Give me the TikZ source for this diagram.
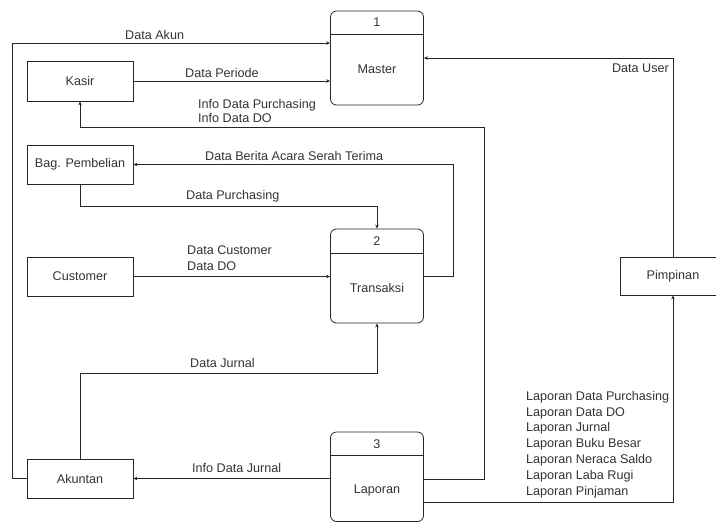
\documentclass[tikz,border=0pt]{standalone}
\usepackage{fontspec}
\setmainfont{Liberation Sans}
\usetikzlibrary{arrows.meta}
\begin{document}
\begin{tikzpicture}[x=1pt,y=-1pt,
  font=\fontsize{12.6}{15}\selectfont,
  every node/.style={text=black!80},
  ent/.style={draw=black!85, line width=0.8pt, minimum width=106pt, minimum height=39pt, inner sep=0pt},
  proc/.style={draw=black!85, line width=0.8pt, rounded corners=6pt, minimum width=93pt, minimum height=94pt, inner sep=0pt},
  flow/.style={draw=black!85, line width=0.8pt, -{Stealth[length=4pt,width=3.5pt]}},
  plain/.style={draw=black!85, line width=0.8pt},
  lbl/.style={anchor=west, inner sep=0pt, align=left},
]
\useasboundingbox (0,0) rectangle (716,523);

% entities
\node[ent, minimum height=40pt] (ka) at (80,81) {Kasir};
\node[ent] (bp) at (80,164.5) {Bag. Pembelian};
\node[ent] (cu) at (80,276.5) {Customer};
\node[ent] (ak) at (80,478.5) {Akuntan};
\node[ent, minimum width=96pt, minimum height=38pt] (pi) at (668,276) {};
\node (pit) at (673,276) {Pimpinan};

% processes
\node[proc] (ma) at (377,58) {};
\draw[plain] (ma.west |- 0,34) -- (ma.east |- 0,34);
\node (man) at (377,22.5) {1};
\node (mat) at (377,69.5) {Master};

\node[proc] (tr) at (377,276) {};
\draw[plain] (tr.west |- 0,253) -- (tr.east |- 0,253);
\node (trn) at (377,241) {2};
\node (trt) at (377,288) {Transaksi};

\node[proc, minimum height=89.5pt] (la) at (377,476.75) {};
\draw[plain] (la.west |- 0,455) -- (la.east |- 0,455);
\node (lan) at (377,444) {3};
\node (lat) at (377,490.5) {Laporan};

% connectors
\coordinate (c1) at (12,478.5);
\coordinate (c2) at (12,43);
\draw[flow] (ak.west) -- (c1) -- (c2) -- (ma.west |- c2);
\node[lbl] (l1) at (125,35) {Data Akun};

\draw[flow] (ka.east) -- (ma.west |- ka.east);
\node[lbl] (l2) at (185,73) {Data Periode};

\coordinate (c3) at (484,479);
\coordinate (c4) at (484,127);
\draw[flow] (la.east |- c3) -- (c3) -- (c4) -| (ka.south);
\node[lbl, font=\fontsize{12.6}{14}\selectfont] (l3) at (198,111) {Info Data Purchasing\\Info Data DO};

\draw[flow] (pi.north -| pit) |- (ma.east);
\node[anchor=east, inner sep=0pt] (l4) at (669,68) {Data User};

\coordinate (c5) at (453,276);
\draw[flow] (tr.east) -- (c5) |- (bp.east);
\node[lbl] (l5) at (205,156) {Data Berita Acara Serah Terima};

\coordinate (c6) at (80,206);
\draw[flow] (bp.south) -- (c6) -| (tr.north);
\node[lbl] (l6) at (186,196) {Data Purchasing};

\draw[flow] (cu.east) -- (tr.west |- cu.east);
\node[lbl, font=\fontsize{12.6}{16}\selectfont] (l7) at (187,258) {Data Customer\\Data DO};

\coordinate (c7) at (80,373);
\draw[flow] (ak.north) -- (c7) -| (tr.south);
\node[lbl] (l8) at (190,363) {Data Jurnal};

\draw[flow] (la.west |- ak.east) -- (ak.east);
\node[lbl] (l9) at (192,468) {Info Data Jurnal};

\coordinate (c8) at (424,502);
\draw[flow] (c8) -| (pi.south -| pit);
\node[lbl, font=\fontsize{12.6}{15.8}\selectfont] (l10) at (526,444.5) {Laporan Data Purchasing\\Laporan Data DO\\Laporan Jurnal\\Laporan Buku Besar\\Laporan Neraca Saldo\\Laporan Laba Rugi\\Laporan Pinjaman};
\end{tikzpicture}
\end{document}
